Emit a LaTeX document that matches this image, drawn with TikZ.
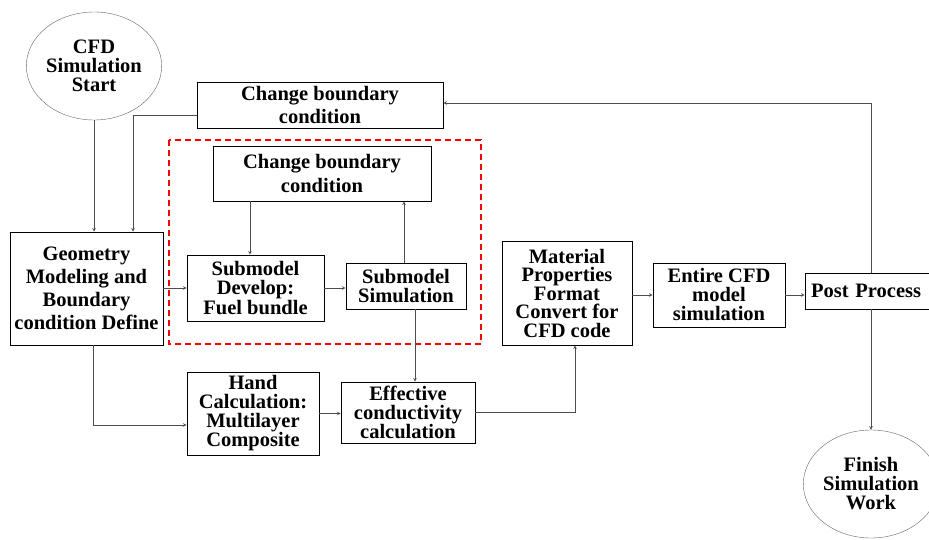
\documentclass[tikz,border=0pt]{standalone}
\usepackage{fontspec}
\setmainfont{Liberation Serif}
\usepackage{tikz}
\usetikzlibrary{calc, positioning, shapes.geometric}

\begin{document}
\begin{tikzpicture}[>=stealth, x=1pt, y=-1pt,
    box/.style={draw, thick, align=center, inner sep=0pt,
      font=\bfseries\fontsize{20.5}{19}\selectfont},
    oval/.style={draw=gray!80!black, ellipse, align=center, inner sep=0pt,
      font=\bfseries\fontsize{20.5}{19}\selectfont},
    link/.style={->, gray!60!black, semithick}]
  \useasboundingbox (0,0) rectangle (929,540);
  % start / finish
  \node[oval, minimum width=102, minimum height=108] (start) at (94,66)
    {CFD\\Simulation\\Start};
  \node[oval, minimum width=104, minimum height=108] (finish) at (871,484)
    {Finish\\Simulation\\Work};
  % upper loop
  \node[box, minimum width=246, minimum height=46, font=\bfseries\fontsize{20.5}{23}\selectfont]
    (cbtop) at (320,105) {Change boundary\\condition};
  \draw[red, line width=1.2pt, dash pattern=on 6pt off 4pt] (169,140) rectangle (481,344);
  \node[box, minimum width=218, minimum height=55, font=\bfseries\fontsize{20.5}{24}\selectfont]
    (cbin) at (322,173.5) {Change boundary\\condition};
  % main row
  \node[box, minimum width=153, minimum height=113, font=\bfseries\fontsize{20.5}{23}\selectfont]
    (geom) at (86.5,288.5) {Geometry\\Modeling and\\Boundary\\condition Define};
  \node[box, minimum width=137, minimum height=66, font=\bfseries\fontsize{20.5}{19.5}\selectfont]
    (develop) at (255.5,288) {Submodel\\Develop:\\Fuel bundle};
  \node[box, minimum width=120, minimum height=46] (subsim) at (406,286)
    {Submodel\\Simulation};
  \node[box, minimum width=130, minimum height=104, font=\bfseries\fontsize{20.5}{18.5}\selectfont]
    (material) at (567,293) {Material\\Properties\\Format\\Convert for\\CFD code};
  \node[box, minimum width=132, minimum height=64] (entire) at (719,295)
    {Entire CFD\\model\\simulation};
  \node[box, minimum width=126, minimum height=36, text width=114, align=left]
    (post) at (868,291) {Post Process};
  % lower row
  \node[box, minimum width=132, minimum height=83] (hand) at (253,413.5)
    {Hand\\Calculation:\\Multilayer\\Composite};
  \node[box, minimum width=134, minimum height=61] (effcond) at (408,412.5)
    {Effective\\conductivity\\calculation};

  % connectors
  \draw[link] (start.south) -- (start.south |- geom.north);
  \draw[link] ([yshift=-10pt]cbtop.west) -| ([xshift=46.5pt]geom.north);
  \draw[link] ([xshift=-72pt]cbin.south) -- ([xshift=-72pt]cbin.south |- develop.north);
  \draw[link] ([xshift=-2pt]subsim.north) -- ([xshift=-2pt]subsim.north |- cbin.south);
  \draw[link] (geom.east |- develop.west) -- (develop.west);
  \draw[link] (develop.east) -- (develop.east -| subsim.west);
  \draw[link] ([xshift=9pt]subsim.south) -- ([xshift=9pt]subsim.south |- effcond.north);
  \draw[link] ([xshift=6.5pt]geom.south) |- ([yshift=-11.5pt]hand.west);
  \draw[link] (hand.east) -- (hand.east -| effcond.west);
  \draw[link] (effcond.east) -| ([xshift=8pt]material.south);
  \draw[link] (entire.west -| material.east) -- (entire.west);
  \draw[link] (entire.east) -- (entire.east -| post.west);
  \draw[link] ([xshift=3pt]post.north) |- ([yshift=2pt]cbtop.east);
  \draw[link] ([xshift=3pt]post.south) -- ([xshift=3pt]post.south |- finish.north);
\end{tikzpicture}
\end{document}
